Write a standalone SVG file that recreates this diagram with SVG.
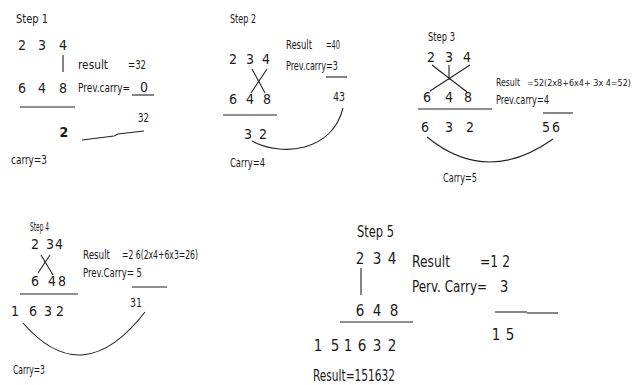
<svg xmlns="http://www.w3.org/2000/svg" width="636" height="385" viewBox="0 0 636 385">
<style>
text{font-family:"Liberation Sans Narrow","DejaVu Sans Condensed","Liberation Sans",sans-serif;fill:#1a1a1a;font-size:13px}
.d{text-anchor:middle;font-size:14px}
.s{font-size:12px}
.b{font-size:15px}
.bd{font-size:15px;text-anchor:middle}
line,path,polyline{stroke:#222;stroke-width:1.1;fill:none}
</style>
<rect width="636" height="385" fill="#fff"/>
<g id="step1">
<text x="16" y="23" class="s" textLength="32" lengthAdjust="spacingAndGlyphs">Step 1</text>
<text class="d" x="22" y="50">2</text><text class="d" x="42" y="50">3</text><text class="d" x="63" y="50">4</text>
<line x1="63" y1="55" x2="63" y2="72"/>
<text x="78" y="69" textLength="30" lengthAdjust="spacingAndGlyphs">result</text>
<text x="128" y="69" textLength="18" lengthAdjust="spacingAndGlyphs">=32</text>
<text class="d" x="22" y="93">6</text><text class="d" x="42" y="93">4</text><text class="d" x="63" y="93">8</text>
<text x="78" y="92" style="font-size:11.5px" textLength="52" lengthAdjust="spacingAndGlyphs">Prev.carry=</text>
<text class="d" x="144" y="92">0</text>
<line x1="132" y1="95" x2="154" y2="95"/>
<line x1="20" y1="107" x2="75" y2="107"/>
<text class="d" x="64" y="137" font-weight="bold">2</text>
<text x="138" y="122" textLength="11" lengthAdjust="spacingAndGlyphs">32</text>
<polyline points="82,140 114,136 118,134 144,131"/>
<text x="11" y="164" textLength="36" lengthAdjust="spacingAndGlyphs">carry=3</text>
</g>
<g id="step2">
<text x="230" y="23" class="s" textLength="26" lengthAdjust="spacingAndGlyphs">Step 2</text>
<text x="286" y="49" textLength="26" lengthAdjust="spacingAndGlyphs">Result</text>
<text x="326" y="49" textLength="14" lengthAdjust="spacingAndGlyphs">=40</text>
<text class="d" x="233" y="64">2</text><text class="d" x="250" y="64">3</text><text class="d" x="266" y="64">4</text>
<text x="286" y="70" textLength="52" lengthAdjust="spacingAndGlyphs">Prev.carry=3</text>
<line x1="326" y1="77" x2="347" y2="77"/>
<line x1="252" y1="69" x2="265" y2="93"/><line x1="267" y1="69" x2="251" y2="93"/>
<text class="d" x="233" y="104">6</text><text class="d" x="250" y="104">4</text><text class="d" x="267" y="104">8</text>
<text x="333" y="101" textLength="12" lengthAdjust="spacingAndGlyphs">43</text>
<line x1="223" y1="115" x2="277" y2="115"/>
<text class="d" x="248" y="139">3</text><text class="d" x="263" y="139">2</text>
<path d="M252,141 C282,157 332,152 343,108"/>
<text x="230" y="167" textLength="35" lengthAdjust="spacingAndGlyphs">Carry=4</text>
</g>
<g id="step3">
<text x="428" y="41" class="s" textLength="27" lengthAdjust="spacingAndGlyphs">Step 3</text>
<text class="d" x="431" y="62">2</text><text class="d" x="449" y="62">3</text><text class="d" x="467" y="62">4</text>
<line x1="432" y1="65" x2="467" y2="92"/><line x1="470" y1="65" x2="430" y2="91"/><line x1="449" y1="65" x2="449" y2="80"/>
<text class="d" x="427" y="102">6</text><text class="d" x="449" y="102">4</text><text class="d" x="468" y="102">8</text>
<text x="496" y="86" style="font-size:11px" textLength="24" lengthAdjust="spacingAndGlyphs">Result</text>
<text x="527" y="86" style="font-size:9.5px" textLength="104" lengthAdjust="spacingAndGlyphs">=52(2x8+6x4+ 3x 4=52)</text>
<text x="496" y="104" textLength="53" lengthAdjust="spacingAndGlyphs">Prev.carry=4</text>
<line x1="418" y1="109" x2="492" y2="109"/>
<line x1="543" y1="113" x2="573" y2="113"/>
<text class="d" x="425" y="132">6</text><text class="d" x="449" y="132">3</text><text class="d" x="470" y="132">2</text>
<text class="d" x="546" y="132">5</text><text class="d" x="556" y="132">6</text>
<path d="M427,137 Q487,186 553,139"/>
<text x="443" y="182" textLength="34" lengthAdjust="spacingAndGlyphs">Carry=5</text>
</g>
<g id="step4">
<text x="30" y="231" class="s" textLength="19" lengthAdjust="spacingAndGlyphs">Step 4</text>
<text class="d" x="35" y="249">2</text><text class="d" x="50" y="249">3</text><text class="d" x="59" y="249">4</text>
<line x1="41" y1="255" x2="53" y2="275"/><line x1="50" y1="255" x2="38" y2="273"/>
<text class="d" x="35" y="286">6</text><text class="d" x="52" y="286">4</text><text class="d" x="62" y="286">8</text>
<text x="83" y="259" textLength="27" lengthAdjust="spacingAndGlyphs">Result</text>
<text x="122" y="259" textLength="76" lengthAdjust="spacingAndGlyphs">=2 6(2x4+6x3=26)</text>
<text x="83" y="277" textLength="59" lengthAdjust="spacingAndGlyphs">Prev.Carry= 5</text>
<line x1="20" y1="294" x2="78" y2="294"/>
<line x1="132" y1="287" x2="167" y2="287"/>
<text class="d" x="15" y="316">1</text><text class="d" x="33" y="316">6</text><text class="d" x="48" y="316">3</text><text class="d" x="60" y="316">2</text>
<text x="130" y="307" textLength="12" lengthAdjust="spacingAndGlyphs">31</text>
<path d="M23,323 Q83,392 145,312"/>
<text x="13" y="374" textLength="32" lengthAdjust="spacingAndGlyphs">Carry=3</text>
</g>
<g id="step5">
<text x="357" y="237" class="b" textLength="37" lengthAdjust="spacingAndGlyphs">Step 5</text>
<text class="bd" x="360" y="264">2</text><text class="bd" x="377" y="264">3</text><text class="bd" x="392" y="264">4</text>
<line x1="361" y1="268" x2="361" y2="295"/>
<text class="bd" x="360" y="316">6</text><text class="bd" x="377" y="316">4</text><text class="bd" x="394" y="316">8</text>
<line x1="340" y1="322" x2="413" y2="322" stroke-width="2"/>
<text class="bd" x="318" y="351">1</text><text class="bd" x="335" y="351">5</text><text class="bd" x="348" y="351">1</text><text class="bd" x="362" y="351">6</text><text class="bd" x="377" y="351">3</text><text class="bd" x="392" y="351">2</text>
<text x="313" y="381" class="b" textLength="82" lengthAdjust="spacingAndGlyphs">Result=151632</text>
<text x="412" y="267" class="b" textLength="38" lengthAdjust="spacingAndGlyphs">Result</text>
<text x="480" y="267" class="b" textLength="30" lengthAdjust="spacingAndGlyphs">=1 2</text>
<text x="412" y="292" class="b" textLength="75" lengthAdjust="spacingAndGlyphs">Perv. Carry=</text>
<text class="bd" x="504" y="292">3</text>
<line x1="495" y1="312" x2="527" y2="312"/>
<line x1="527" y1="313" x2="558" y2="313" stroke-width="2"/>
<text class="bd" x="496" y="340">1</text><text class="bd" x="510" y="340">5</text>
</g>
</svg>
